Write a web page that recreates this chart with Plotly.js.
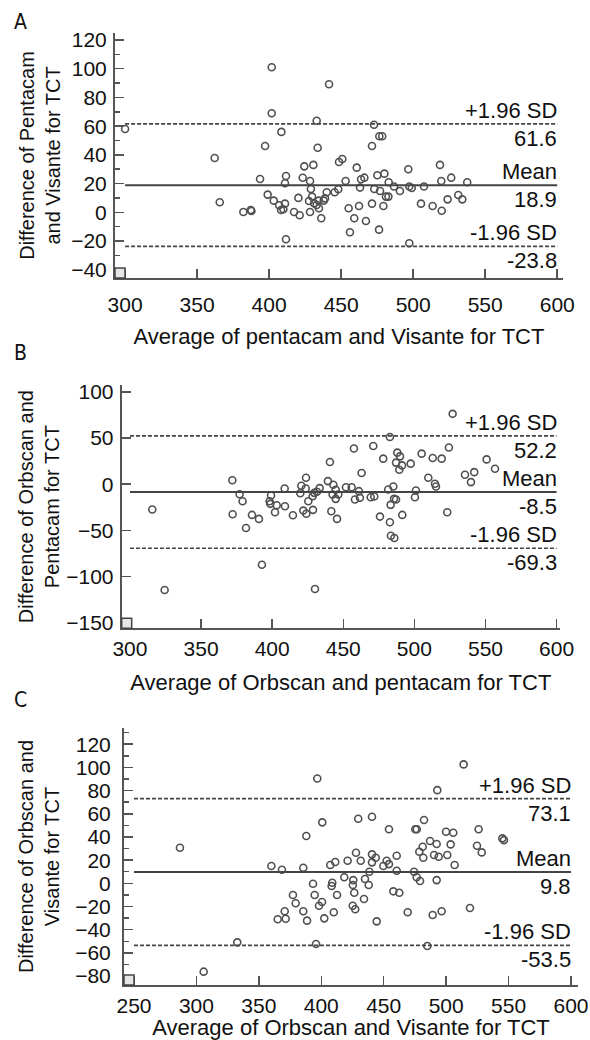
<!DOCTYPE html>
<html>
<head>
<meta charset="utf-8">
<script src="https://cdn.plot.ly/plotly-3.0.1.min.js"></script>
<style>html,body{margin:0;padding:0;background:#fff;}#chart{width:590px;height:1040px;}</style>
</head>
<body>
<div id="chart"></div>
<script>
// ---------- Panel A: Pentacam vs Visante ----------
var aX = [300,401.8,441.6,401.8,433,408.5,397.2,362.2,433.7,424.4,430.7,448.5,450.8,393.7,411.7,423.3,428.4,453.1,411,429,440,445.5,448,399,420.3,429.8,427.7,437.9,438.8,403.2,406.9,411,365.7,431.2,434.4,433,434.6,408.3,409.9,387.2,387.7,382.1,417.3,421.2,428.4,436.2,455.2,411.7,456.1,
  472.8,476.5,478.5,471.4,460.8,496.6,518.6,526.4,519.5,537.5,463.8,466.1,475.1,480,483,486.7,490.8,463.1,473,477,481.1,482.8,497.3,499,507.5,531.3,534.1,523.9,505.4,513.5,519.8,462.4,471.4,479.3,459.1,467.2,476.3,497.3];
var aY = [58,101,89.2,69,63.8,56,46.2,37.8,45,32,33,35,37.1,23.2,25.3,24,21.8,21.8,20.2,16.2,13.9,13.9,16,12.3,10,10.9,7.9,8.1,9.7,8.1,4.9,6,7,6.3,8.1,5.1,2.8,1.6,2.1,1.6,0.9,0.2,0.2,-2.1,0.2,-4.2,2.8,-18.8,-13.9,
  61,53,53,46.2,31.1,30,33,24.1,21.8,20.9,23,24.1,25.8,26.9,20.9,17.9,14.8,17.2,16.2,14.8,10.9,10.9,17.9,16.9,17.9,12,9,9,6,4.4,1.1,4.4,6,4.4,-4.2,-6.1,-12.1,-21.6];
var aStats = [61.6, 18.9, -23.8];
var aLineX = [300, 600];

// ---------- Panel B: Orbscan vs Pentacam ----------
var bX = [315.7,324.4,372,372.2,377.1,379.2,381.6,385.8,390.7,392.8,398.2,399.2,398.7,402,403.2,408.8,409,414.6,420.5,423.8,423.6,419.8,421.9,424,425.4,428.5,428.7,430.1,429.6,431.5,433.4,439.2,440.6,443,441.6,444.7,442.5,446.5,444.7,445.6,451.9,
  526.9,482.8,457.5,471.1,478.1,488,489.9,487.1,491.3,489.4,497.4,505.1,512.9,519.2,524.3,550.8,556.7,542.1,535.6,539.8,462.9,509.8,514.5,515.2,455.9,461,458.2,461.7,469.3,471.8,481.6,485.2,485.7,487.1,483.3,501.1,500.4,475.8,491.5,482.8,483.5,485.9,523.1];
var bY = [-27.5,-114.5,4.3,-32.6,-10.9,-18.5,-47.4,-33.3,-37.6,-87.3,-18.5,-12.3,-21.3,-30.4,-22.8,-4.7,-23.9,-33.7,-1.7,7,-4.7,-9.8,-28.6,-32,-18.5,-13,-27.8,-113.4,-9.4,-8.3,-4.3,3.3,23.9,-0.7,-29.3,-6.1,-11.2,-11.2,-15.9,-37.6,-3.3,
  76.1,51.1,38.5,41.3,27.6,34.1,30.1,23.3,20.3,15.6,22.2,33,28.3,27.6,39.6,26.8,16.7,13,10.2,2.2,12,7,0.4,-2.5,-3.3,-7.6,-16.6,-14.8,-14.1,-13.4,-5.8,-2.5,-15.9,-16.6,-22.4,-6.8,-14.1,-35.1,-33.3,-41.3,-55.8,-58.3,-30.4];
var bStats = [52.2, -8.5, -69.3];
var bLineX = [300, 600];

// ---------- Panel C: Orbscan vs Visante ----------
var cX = [286.8,305.8,332.7,360,368.5,385.6,388,396.8,400.8,407.2,411.2,421.1,418.4,393.4,408.8,408.3,377.3,394.7,412.6,379.5,398.2,400.6,370.7,385.6,410,365.1,371.5,388.6,402.4,395.8,
  514,492.9,429.6,440.6,454.2,475.3,476.5,482.3,499.9,505.7,526,545,546.3,524.7,528.5,487.1,492.4,503.6,481.2,478.5,481.7,490.3,494,500.9,506.8,427.8,431.6,440.6,443.6,440.6,452.4,454.2,449.7,460.4,460.4,438.5,474.3,425.6,425.3,435,438,426.4,434.2,425.2,427.2,476.4,479.1,492.4,457.7,462.5,444.4,469.2,489.2,496.4,519.1,484.9];
var cY = [30.7,-76.2,-50.9,14.9,11.7,13.4,40.8,90.5,52.6,15.8,18.4,19.5,5.2,-0.3,0.5,-2.3,-10.1,-10.1,-10.1,-17.2,-19.3,-16.1,-24.1,-24.1,-25,-31,-30.5,-32.2,-30.2,-52.3,
  102.6,80.4,55.7,57.4,46.6,46.6,46.6,54.6,44.5,43.6,46.6,38.8,37.3,32.4,26.7,36.5,33.9,33.6,31.6,27.3,22.1,24.4,22.9,24.4,15.8,26.4,19.5,25,22.1,18.1,19.5,16.6,14.9,23.8,10.9,10,10,2.8,-1.5,3.7,-1.5,-8.1,-13.5,-19.3,-22.4,5.2,2,2.8,-6.9,-8.1,-32.8,-25,-27.3,-24.1,-21.3,-54];
var cStats = [73.1, 9.8, -53.5];
var cLineX = [250, 600];

var statLabels = ['+1.96 SD', 'Mean', '-1.96 SD'];
var xTitles = ['Average of pentacam and Visante for TCT', 'Average of Orbscan and pentacam for TCT', 'Average of Orbscan and Visante for TCT'];
var yTitles = ['Difference of Pentacam<br>and Visante for TCT', 'Difference of Orbscan and<br>Pentacam for TCT', 'Difference of Orbscan and<br>Visante for TCT'];
var panelLetters = ['A', 'B', 'C'];

// ---------- build ----------
var W = 590, H = 1040;
var FONT = '"Liberation Sans", Arial, Helvetica, sans-serif';
var INK = '#111';
var AXC = '#555';

var panels = [
  {xs: aX, ys: aY, st: aStats, lx: aLineX, xr: [293, 604], yr: [-45.8, 124.9], px: [115, 563], py: [278, 33], ydt: 20, ymin: 10, x0: 300, tls: 7, ytls: 2, xstand: 13, ystand: 5, lblY: 22},
  {xs: bX, ys: bY, st: bStats, lx: bLineX, xr: [294.2, 602.4], yr: [-156, 107.3], px: [121.7, 560], py: [628.3, 385], ydt: 50, ymin: null, x0: 300, tls: 0, ytls: 2, xstand: 16, ystand: 1, lblY: 353},
  {xs: cX, ys: cY, st: cStats, lx: cLineX, xr: [242, 605.6], yr: [-87.7, 134], px: [124, 578], py: [985, 728], ydt: 20, ymin: 10, x0: 250, tls: 1, ytls: 7, xstand: 10, ystand: 10, lblY: 700}
];

var data = [];
var layout = {
  width: W, height: H,
  margin: {l: 0, r: 0, t: 0, b: 0},
  paper_bgcolor: '#fff', plot_bgcolor: '#fff',
  showlegend: false,
  font: {family: FONT, size: 21, color: INK},
  annotations: [], shapes: []
};

panels.forEach(function (p, i) {
  var n = i === 0 ? '' : String(i + 1);
  var xa = 'x' + n, ya = 'y' + n;
  data.push({
    type: 'scatter', mode: 'markers', x: p.xs, y: p.ys, xaxis: xa, yaxis: ya,
    marker: {symbol: 'circle-open', size: 7, color: '#505050', line: {width: 1.6, color: '#505050'}},
    hoverinfo: 'x+y'
  });
  p.st.forEach(function (v, k) {
    data.push({
      type: 'scatter', mode: 'lines', x: p.lx, y: [v, v], xaxis: xa, yaxis: ya,
      line: k === 1 ? {color: '#444', width: 2} : {color: '#444', width: 1.6, dash: '4px,2px'},
      hoverinfo: 'skip'
    });
    layout.annotations.push({
      xref: xa, yref: ya, x: p.lx[1], y: v, xanchor: 'right', yanchor: 'bottom',
      text: statLabels[k], showarrow: false, xshift: 2, yshift: -1,
      font: {family: FONT, size: 22, color: INK}
    });
    layout.annotations.push({
      xref: xa, yref: ya, x: p.lx[1], y: v, xanchor: 'right', yanchor: 'top',
      text: v.toFixed(1), showarrow: false, xshift: 2, yshift: 0,
      font: {family: FONT, size: 22, color: INK}
    });
  });
  layout.annotations.push({
    xref: 'paper', yref: 'paper', x: 12 / W, y: 1 - p.lblY / H, xanchor: 'left', yanchor: 'middle',
    text: panelLetters[i], showarrow: false,
    font: {family: '"Liberation Sans Narrow", "DejaVu Sans Condensed", sans-serif', size: 21, color: INK}
  });
  layout.shapes.push({
    type: 'rect', xref: xa + ' domain', yref: ya + ' domain',
    xsizemode: 'pixel', ysizemode: 'pixel', xanchor: 0, yanchor: 0,
    x0: 0, x1: 10, y0: 0, y1: 10,
    fillcolor: '#e6e6e6', line: {color: '#444', width: 1.5}
  });

  var xaxis = {
    domain: [p.px[0] / W, p.px[1] / W], range: p.xr, anchor: ya,
    showline: true, linecolor: AXC, linewidth: 2,
    ticks: 'inside', ticklen: 9, tickwidth: 1.5, tickcolor: AXC,
    tick0: p.x0, dtick: 50, showgrid: false, zeroline: false,
    ticklabelstandoff: p.tls,
    tickfont: {family: FONT, size: 21, color: INK},
    title: {text: xTitles[i], font: {family: FONT, size: 22, color: INK}, standoff: p.xstand},
    automargin: false
  };
  var yaxis = {
    domain: [1 - p.py[0] / H, 1 - p.py[1] / H], range: p.yr, anchor: xa,
    showline: true, linecolor: AXC, linewidth: 2,
    ticks: 'inside', ticklen: 9, tickwidth: 1.5, tickcolor: AXC,
    tick0: 0, dtick: p.ydt, showgrid: false, zeroline: false,
    ticklabelstandoff: p.ytls,
    tickfont: {family: FONT, size: 21, color: INK},
    title: {text: yTitles[i], font: {family: FONT, size: 20, color: INK}, standoff: p.ystand},
    automargin: false
  };
  if (p.ymin) {
    yaxis.minor = {dtick: p.ymin, ticks: 'inside', ticklen: 5, tickwidth: 1.5, tickcolor: AXC, showgrid: false};
  }
  layout['xaxis' + n] = xaxis;
  layout['yaxis' + n] = yaxis;
});

Plotly.newPlot('chart', data, layout, {displayModeBar: false, staticPlot: true});
</script>
</body>
</html>
